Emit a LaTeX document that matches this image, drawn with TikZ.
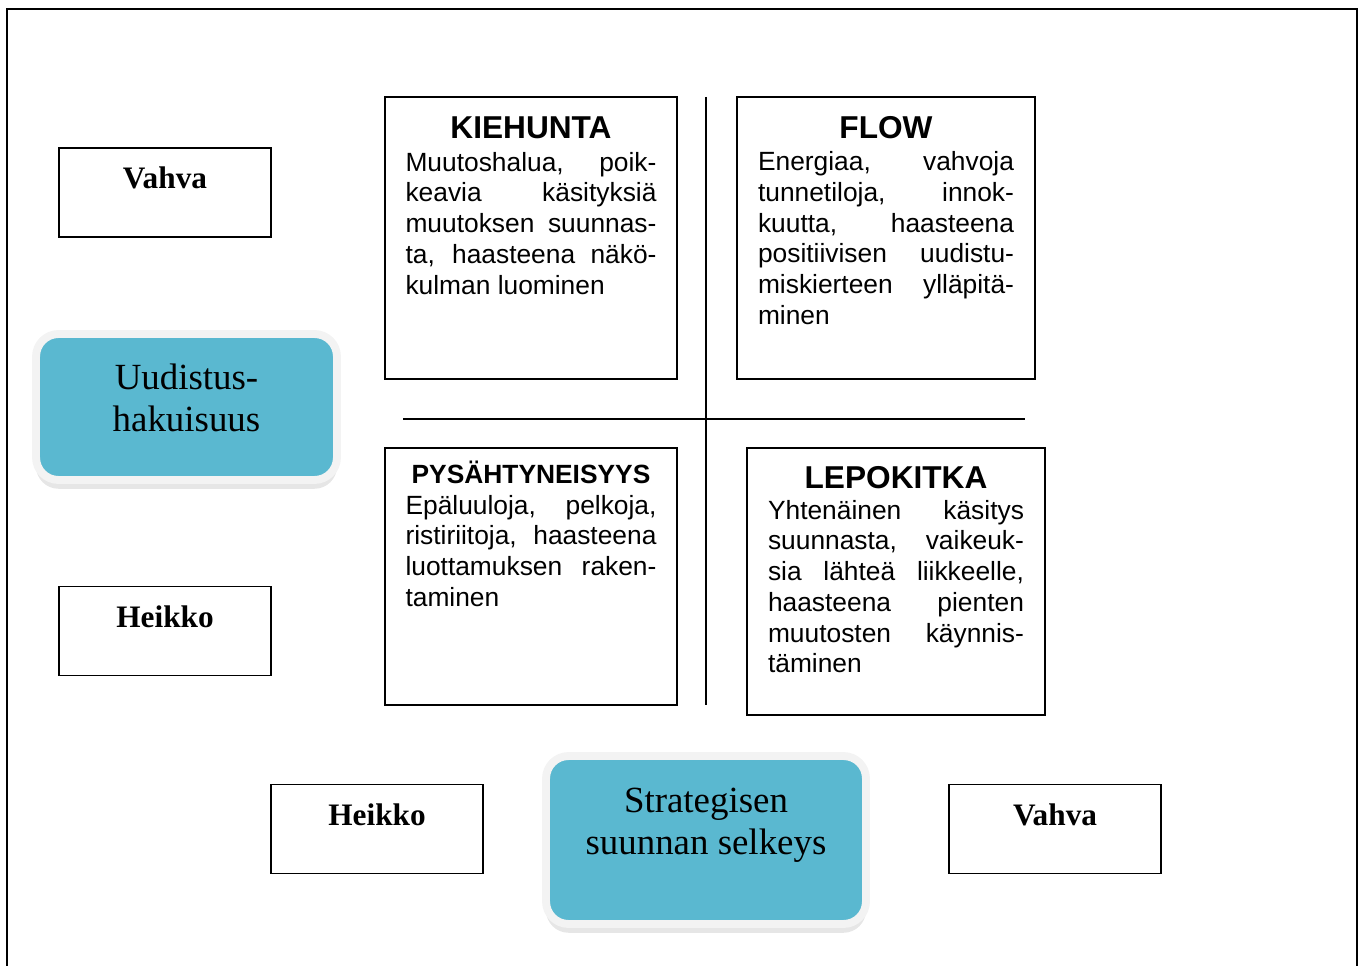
\documentclass[tikz,border=0pt]{standalone}
\usepackage{fontspec}
\setmainfont{Liberation Serif}
\setsansfont{Liberation Sans}
\usepackage{tikz}
\usetikzlibrary{shadows}
\definecolor{tealblue}{RGB}{90,184,208}
\definecolor{halo}{RGB}{243,243,243}
\tolerance=10000
\hyphenpenalty=10000
\tikzset{
    axisbox/.style={draw, line width=1.1pt, minimum width=4.24cm, inner sep=0pt, text height=0.81cm, text depth=0.97cm, font=\fontsize{17.8}{20}\selectfont\bfseries},
    quadbox/.style 2 args={draw, line width=1.1pt, minimum width=#1, minimum height=#2, inner sep=0pt},
    quadtext/.style args={#1}{anchor=north, inner sep=0pt, text width=#1, align=justify, font=\sffamily\fontsize{15}{17.5}\selectfont},
    bluebox/.style 2 args={fill=tealblue, draw=halo, line width=4.5pt, rounded corners=0.45cm, minimum width=#1, minimum height=#2, drop shadow={shadow xshift=0pt, shadow yshift=-5pt, opacity=0.22, fill=black!45}},
    bluetext/.style={inner sep=0pt, align=center, font=\fontsize{21}{23.8}\selectfont},
    axisline/.style={line width=0.8pt}
}

\begin{document}
\begin{tikzpicture}[x=0.02cm, y=-0.02cm]
\useasboundingbox (0,0) rectangle (1365,966);
\draw[line width=1.4pt] (7,966) -- (7,9) -- (1357,9) -- (1357,966);

% axis labels
\node[axisbox] (vahvaLeft) at (165,192.5) {Vahva};
\node[axisbox] (heikkoLeft) at (165,631) {Heikko};
\node[axisbox] (heikkoBottom) at (377,829) {Heikko};
\node[axisbox] (vahvaBottom) at (1055,829) {Vahva};

\node[bluebox={6.02cm}{2.92cm}] (uudistus) at (186.5,407) {};
\node[bluetext] (uudistusText) at (186.5,398) {Uudistus-\\hakuisuus};
\node[bluebox={6.4cm}{3.36cm}] (strategia) at (706,840) {};
\node[bluetext] (strategiaText) at (706,825) {Strategisen\\suunnan selkeys};

% quadrants
\coordinate (vtop) at (706,97);
\coordinate (vbot) at (706,705);
\coordinate (hleft) at (403,419);
\coordinate (hright) at (1025,419);
\draw[axisline] (vtop) -- (vbot);
\draw[axisline] (hleft) -- (hright);

\node[quadbox={5.84cm}{5.64cm}] (kiehunta) at (531,238) {};
\node[quadtext=5.02cm] (kiehuntaText) at ([yshift=-0.4cm]kiehunta.north) {{\centering\bfseries\fontsize{18}{19}\selectfont KIEHUNTA\par}\vspace{1.2pt}Muutoshalua, poik-\linebreak keavia käsityksiä\linebreak muutoksen suunnas-\linebreak ta, haasteena näkö-\linebreak kulman luominen};

\node[quadbox={5.96cm}{5.64cm}] (flow) at (886,238) {};
\node[quadtext=5.12cm] (flowText) at ([yshift=-0.4cm]flow.north) {{\centering\bfseries\fontsize{18}{19}\selectfont FLOW\par}\vspace{0.8pt}Energiaa, vahvoja\linebreak tunnetiloja, innok-\linebreak kuutta, haasteena\linebreak positiivisen uudistu-\linebreak miskierteen ylläpitä-\linebreak minen};

\node[quadbox={5.84cm}{5.14cm}] (pysahtyneisyys) at (531,576.5) {};
\node[quadtext=5.02cm] (pysahtyneisyysText) at ([yshift=-0.27cm]pysahtyneisyys.north) {{\centering\bfseries\fontsize{15}{17}\selectfont PYSÄHTYNEISYYS\par}Epäluuloja, pelkoja,\linebreak ristiriitoja, haasteena\linebreak luottamuksen raken-\linebreak taminen};

\node[quadbox={5.96cm}{5.34cm}] (lepokitka) at (896,581.5) {};
\node[quadtext=5.12cm] (lepokitkaText) at ([yshift=-0.38cm]lepokitka.north) {{\centering\bfseries\fontsize{18}{19}\selectfont LEPOKITKA\par}Yhtenäinen käsitys\linebreak suunnasta, vaikeuk-\linebreak sia lähteä liikkeelle,\linebreak haasteena pienten\linebreak muutosten käynnis-\linebreak täminen};
\end{tikzpicture}
\end{document}
